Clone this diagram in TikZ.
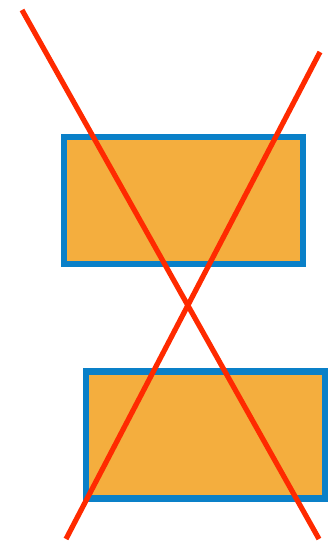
\documentclass[tikz,border=0pt]{standalone}
\definecolor{boxfill}{HTML}{F4AE3E}
\definecolor{boxedge}{HTML}{0A80C8}
\definecolor{xline}{HTML}{FF2A00}
\begin{document}
\begin{tikzpicture}[x=1pt,y=-1pt,
  boxshape/.style={draw=boxedge,fill=boxfill,line width=6.5pt,minimum width=239pt,minimum height=127pt,inner sep=0pt,outer sep=0pt},
  cross/.style={draw=xline,line width=5.2pt}]
\useasboundingbox (0,0) rectangle (330,546);
\node[boxshape] (top) at (183.5,200.5) {};
\node[boxshape] (bottom) at (205.3,434.8) {};
\coordinate (a1) at (22,10);
\coordinate (a2) at (319,539);
\coordinate (b1) at (320,52);
\coordinate (b2) at (66,539);
\draw[cross] (a1) -- (a2);
\draw[cross] (b1) -- (b2);
\end{tikzpicture}
\end{document}
